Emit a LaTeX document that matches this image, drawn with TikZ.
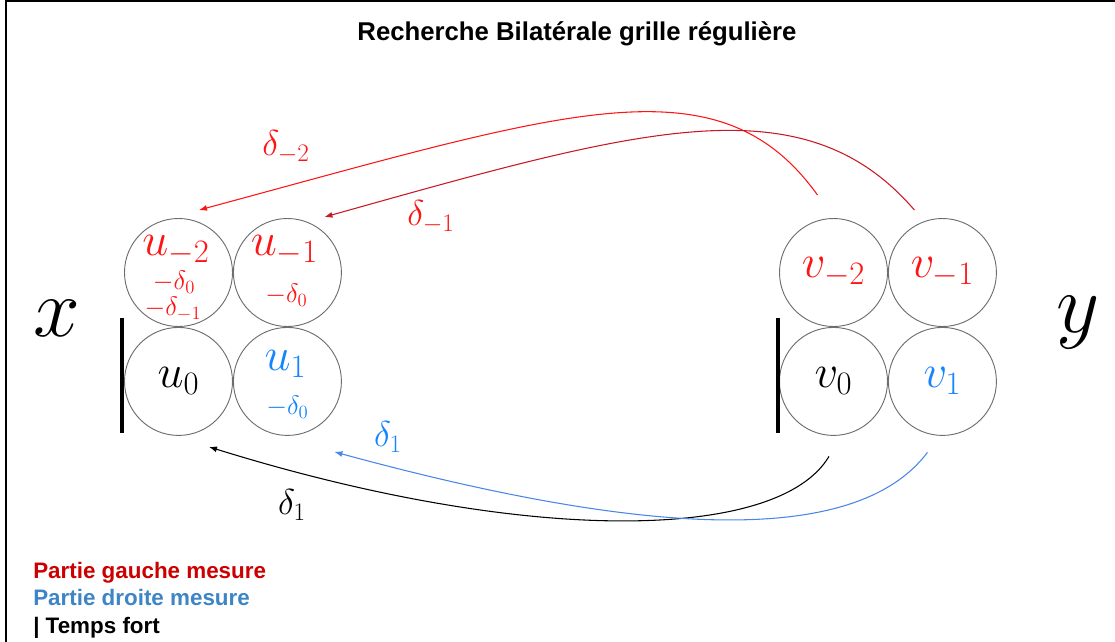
\RequirePackage{fix-cm}
\documentclass[tikz,border=0pt]{standalone}
\usepackage{fontspec}
\setsansfont{Liberation Sans}
\usetikzlibrary{arrows.meta,positioning,calc}
\definecolor{markred}{RGB}{255,20,20}
\definecolor{arcred}{RGB}{200,25,35}
\definecolor{legendred}{RGB}{204,0,0}
\definecolor{markblue}{RGB}{20,132,255}
\definecolor{arcblue}{RGB}{74,134,232}
\definecolor{legendblue}{RGB}{61,133,198}
\definecolor{cellgray}{RGB}{110,110,110}

\begin{document}
\begin{tikzpicture}[x=0.75pt,y=-0.75pt,>={Latex[length=6pt,width=4.5pt]},
  cell/.style={circle,draw=cellgray,line width=0.7pt,minimum size=81pt,inner sep=0pt,font=\fontsize{35}{40}\selectfont},
  big/.style={inner sep=0pt,font=\fontsize{35}{40}\selectfont},
  small/.style={inner sep=0pt,font=\fontsize{20}{23}\selectfont},
  delta/.style={inner sep=0pt,font=\fontsize{27}{31}\selectfont},
  legend/.style={anchor=base west,inner sep=0pt,font=\sffamily\bfseries\fontsize{16.8}{20}\selectfont},
  strong/.style={line width=2.4pt},
  arc/.style={->,line width=0.8pt}]
\useasboundingbox (0,0) rectangle (1115,642);
\draw[line width=1.9pt] (1115,1.2) -- (6,1.2) -- (6,642);
\node[anchor=base,font=\sffamily\bfseries\fontsize{19.3}{23}\selectfont] (title) at (577,41) {Recherche Bilatérale grille régulière};
% cellules de x
\node[cell] (um2) at (178.5,272.5) {};
\node[cell,right=0pt of um2] (um1) {};
\node[cell,below=0pt of um2] (u0) {$u_0$};
\node[cell,right=0pt of u0] (u1) {};
\node[big,text=markred] (lum2) at ($(um2.center)+(-2.5,-22.5)$) {$u_{-2}$};
\node[small,text=markred] (lum2a) at ($(um2.center)+(-4.5,9.5)$) {$-\delta_0$};
\node[small,text=markred] (lum2b) at ($(um2.center)+(-5.5,36.5)$) {$-\delta_{-1}$};
\node[big,text=markred] (lum1) at ($(um1.center)+(-3,-22.5)$) {$u_{-1}$};
\node[small,text=markred] (lum1a) at ($(um1.center)+(-1,22.5)$) {$-\delta_0$};
\node[big,text=markblue] (lu1) at ($(u1.center)+(-2,-17.5)$) {$u_1$};
\node[small,text=markblue] (lu1a) at ($(u1.center)+(0,25.5)$) {$-\delta_0$};
% cellules de y
\node[cell,text=markred] (vm2) at (833.5,272.5) {$v_{-2}$};
\node[cell,text=markred,right=0pt of vm2] (vm1) {$v_{-1}$};
\node[cell,below=0pt of vm2] (v0) {$v_0$};
\node[cell,text=markblue,right=0pt of v0] (v1) {$v_1$};
% temps forts
\draw[strong] ($(u0.west)+(-2,-63.5)$) -- ($(u0.west)+(-2,52)$);
\draw[strong] ($(v0.west)+(-1,-63.5)$) -- ($(v0.west)+(-1,52)$);
\node[font=\fontsize{63}{70}\selectfont] (xlab) at (57,318) {$x$};
\node[font=\fontsize{63}{70}\selectfont] (ylab) at (1078,323) {$y$};
% decalages
\draw[arc,markred] ($(vm2.north)+(-16,-23)$) .. controls +(-99,-138) and +(367,-99) .. ($(um2.north)+(20.5,-8)$);
\draw[arc,arcred] ($(vm1.north)+(-28,-8)$) .. controls +(-111,-129) and +(317,-89) .. ($(um1.north)+(37,-1)$);
\draw[arc,black] ($(v0.south)+(-4.5,20.5)$) .. controls +(-51,86) and +(315,98) .. ($(u0.south)+(30.5,11)$);
\draw[arc,arcblue] ($(v1.south)+(-15,16.5)$) .. controls +(-72,96) and +(308,84) .. ($(u1.south)+(47,16)$);
\node[delta,text=markred] (dm2) at (286,147) {$\delta_{-2}$};
\node[delta,text=markred] (dm1) at (431,217) {$\delta_{-1}$};
\node[delta,text=markblue] (d1b) at (388,437) {$\delta_1$};
\node[delta] (d1k) at (292,505) {$\delta_1$};
% legende
\node[legend,text=legendred] (leg1) at (33,578) {Partie gauche mesure};
\node[legend,text=legendblue] (leg2) at ($(leg1.base west)+(0,27.5)$) {Partie droite mesure};
\node[legend] (leg3) at ($(leg2.base west)+(0,27.5)$) {| Temps fort};
\end{tikzpicture}
\end{document}
